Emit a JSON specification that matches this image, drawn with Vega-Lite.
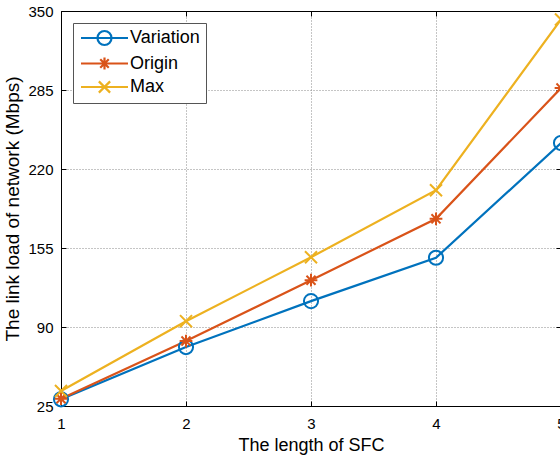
{
  "$schema": "https://vega.github.io/schema/vega-lite/v6.json",
  "width": 500,
  "height": 395,
  "autosize": {"type": "none"},
  "padding": {"left": 61, "top": 11, "right": 10, "bottom": 56},
  "background": "white",
  "config": {
    "font": "Liberation Sans",
    "view": {"stroke": "black", "strokeWidth": 1},
    "axis": {
      "domainColor": "black",
      "tickColor": "black",
      "labelColor": "black",
      "titleColor": "black",
      "labelFont": "Liberation Sans",
      "titleFont": "Liberation Sans",
      "titleFontWeight": "normal"
    },
    "legend": {
      "orient": "top-left",
      "offset": 12,
      "padding": 6,
      "rowPadding": 2.5,
      "fillColor": "white",
      "strokeColor": "#555555",
      "labelFontSize": 18,
      "labelColor": "black",
      "labelFont": "Liberation Sans",
      "labelOffset": 33,
      "symbolSize": 196,
      "symbolStrokeWidth": 2.2
    }
  },
  "data": {
    "values": [
      {"len": 1, "load": 30.5, "series": "Variation"},
      {"len": 2, "load": 73.5, "series": "Variation"},
      {"len": 3, "load": 111.3, "series": "Variation"},
      {"len": 4, "load": 147, "series": "Variation"},
      {"len": 5, "load": 241.4, "series": "Variation"},
      {"len": 1, "load": 31, "series": "Origin"},
      {"len": 2, "load": 78.4, "series": "Origin"},
      {"len": 3, "load": 128.5, "series": "Origin"},
      {"len": 4, "load": 179, "series": "Origin"},
      {"len": 5, "load": 286.6, "series": "Origin"},
      {"len": 1, "load": 37.3, "series": "Max"},
      {"len": 2, "load": 94.8, "series": "Max"},
      {"len": 3, "load": 147.4, "series": "Max"},
      {"len": 4, "load": 202.5, "series": "Max"},
      {"len": 5, "load": 343, "series": "Max"}
    ]
  },
  "resolve": {"axis": {"x": "independent", "y": "independent"}},
  "layer": [
    {
      "mark": {"type": "line", "strokeWidth": 2.2, "clip": false},
      "encoding": {
        "x": {
          "field": "len", "type": "quantitative",
          "scale": {"domain": [1, 5], "nice": false, "zero": false},
          "axis": {
            "orient": "bottom", "values": [1, 2, 3, 4, 5], "format": "d",
            "grid": true, "gridDash": [1, 2], "gridColor": "#8a8a8a", "gridOpacity": 1,
            "tickSize": -5, "labelPadding": 15, "labelFontSize": 15,
            "title": "The length of SFC", "titleFontSize": 18, "titlePadding": 5,
            "labelFlush": false
          }
        },
        "y": {
          "field": "load", "type": "quantitative",
          "scale": {"domain": [25, 350], "nice": false, "zero": false},
          "axis": {
            "orient": "left", "values": [25, 90, 155, 220, 285, 350],
            "grid": true, "gridDash": [1, 2], "gridColor": "#8a8a8a", "gridOpacity": 1,
            "tickSize": -5, "labelPadding": 13, "labelFontSize": 15,
            "title": "The link load of network (Mbps)", "titleFontSize": 19, "titlePadding": 5,
            "labelFlush": false
          }
        },
        "color": {
          "field": "series", "type": "nominal",
          "scale": {"domain": ["Variation", "Origin", "Max"], "range": ["#0072BD", "#D95319", "#EDB120"]},
          "legend": {
            "title": null,
            "encoding": {
              "symbols": {
                "shape": {"value": {"signal": "datum.value === 'Variation' ? 'M-1,0L5.714,0M3.357,0A1,1,0,1,1,1.357,0A1,1,0,1,1,3.357,0' : datum.value === 'Origin' ? 'M-1,0L5.714,0M2.357,-0.857L2.357,0.857M1.75,-0.6L2.964,0.6M1.75,0.6L2.964,-0.6' : 'M-1,0L5.714,0M1.55,-0.8L3.16,0.8M1.55,0.8L3.16,-0.8'"}},
                "fill": {"value": "transparent"},
                "strokeWidth": {"value": 2.2}
              }
            }
          }
        }
      }
    },
    {
      "transform": [{"filter": "datum.series === 'Variation'"}],
      "mark": {"type": "point", "shape": "circle", "filled": false, "strokeWidth": 2, "size": 200, "opacity": 1, "color": "#0072BD", "clip": false},
      "encoding": {
        "x": {
          "field": "len", "type": "quantitative",
          "axis": {"orient": "top", "values": [1, 2, 3, 4, 5], "labels": false, "grid": false, "tickSize": -5, "title": null}
        },
        "y": {
          "field": "load", "type": "quantitative",
          "axis": {"orient": "right", "values": [25, 90, 155, 220, 285, 350], "labels": false, "grid": false, "tickSize": -5, "title": null}
        }
      }
    },
    {
      "transform": [{"filter": "datum.series === 'Origin'"}],
      "mark": {"type": "point", "shape": "M-0.9,0L0.9,0M0,-0.9L0,0.9M-0.64,-0.64L0.64,0.64M-0.64,0.64L0.64,-0.64", "filled": false, "strokeWidth": 2, "size": 200, "opacity": 1, "color": "#D95319", "clip": false},
      "encoding": {
        "x": {"field": "len", "type": "quantitative", "axis": null},
        "y": {"field": "load", "type": "quantitative", "axis": null}
      }
    },
    {
      "transform": [{"filter": "datum.series === 'Max'"}],
      "mark": {"type": "point", "shape": "M-0.85,-0.85L0.85,0.85M-0.85,0.85L0.85,-0.85", "filled": false, "strokeWidth": 2, "size": 200, "opacity": 1, "color": "#EDB120", "clip": false},
      "encoding": {
        "x": {"field": "len", "type": "quantitative", "axis": null},
        "y": {"field": "load", "type": "quantitative", "axis": null}
      }
    }
  ]
}
